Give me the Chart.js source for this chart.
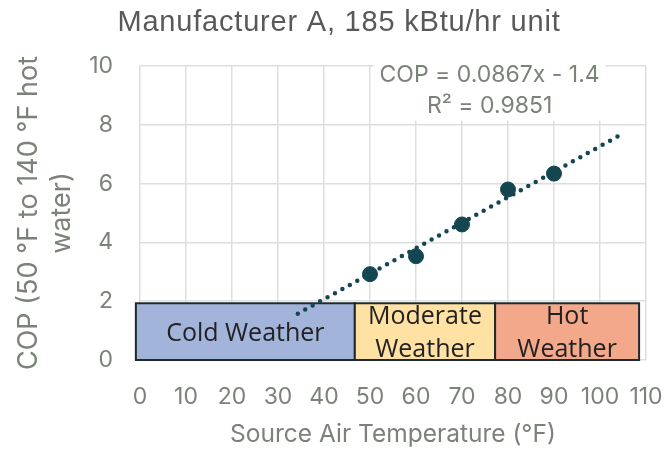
<!DOCTYPE html>
<html>
<head>
<meta charset="utf-8">
<script src="https://cdn.jsdelivr.net/npm/chart.js@4/dist/chart.umd.min.js"></script>
<style>
  html, body { margin: 0; padding: 0; background: #fff; }
  #wrap { width: 670px; height: 453px; }
</style>
</head>
<body>
<div id="wrap"><canvas id="copChart" width="670" height="453"></canvas></div>
<script>
// measured points
const tempF = [50, 60, 70, 80, 90];
const copValues = [2.92, 3.53, 4.61, 5.8, 6.34];

// linear trendline  COP = 0.0867x - 1.4
const trendSlope = 0.0867;
const trendIntercept = -1.4;
const trendRange = [34.3, 104.3];

// weather zones
const zoneNames = [['Cold Weather'], ['Moderate', 'Weather'], ['Hot', 'Weather']];
const zoneStart = [-0.9, 46.7, 77.2];
const zoneEnd = [46.7, 77.2, 108.5];
const zoneTop = 1.93;
const zoneColors = ['#a2b4da', '#fee1a3', '#f3a78b'];

const xTicks = [0, 10, 20, 30, 40, 50, 60, 70, 80, 90, 100, 110];
const yTicks = [0, 2, 4, 6, 8, 10];

const eqLines = ['COP = 0.0867x - 1.4', 'R² = 0.9851'];

const gray = '#7b8279';
const gridColor = '#dedede';

const trendData = trendRange.map(x => ({ x: x, y: trendSlope * x + trendIntercept }));

// zones + equation box drawn through the scales
const zonePlugin = {
  id: 'zones',
  beforeDatasetsDraw(chart) {
    const { ctx, scales: { x, y } } = chart;
    ctx.save();
    for (let i = 0; i < zoneNames.length; i++) {
      const x0 = x.getPixelForValue(zoneStart[i]);
      const x1 = x.getPixelForValue(zoneEnd[i]);
      const y0 = y.getPixelForValue(zoneTop);
      const y1 = y.getPixelForValue(0);
      ctx.fillStyle = zoneColors[i];
      ctx.fillRect(x0, y0, x1 - x0, y1 - y0);
      ctx.strokeStyle = '#1e2a2e';
      ctx.lineWidth = 2;
      ctx.strokeRect(x0, y0, x1 - x0, y1 - y0);
    }
    ctx.restore();
  },
  afterDatasetsDraw(chart) {
    const { ctx, scales: { x, y } } = chart;
    ctx.save();
    // zone labels
    ctx.fillStyle = '#222222';
    ctx.font = '25px "Open Sans", sans-serif';
    ctx.textAlign = 'center';
    ctx.textBaseline = 'middle';
    for (let i = 0; i < zoneNames.length; i++) {
      const cx = (x.getPixelForValue(zoneStart[i]) + x.getPixelForValue(zoneEnd[i])) / 2;
      const lines = zoneNames[i];
      const top = y.getPixelForValue(zoneTop);
      const bottom = y.getPixelForValue(0);
      if (lines.length === 1) {
        ctx.fillText(lines[0], cx, (top + bottom) / 2 + 2);
      } else {
        ctx.fillText(lines[0], cx, top + 14);
        ctx.fillText(lines[1], cx, top + 47);
      }
    }
    // equation label
    ctx.font = '23px Inter, sans-serif';
    const ex = x.getPixelForValue(76);
    const ey1 = y.getPixelForValue(9.7);
    const ey2 = y.getPixelForValue(8.65);
    const w = Math.max(ctx.measureText(eqLines[0]).width, ctx.measureText(eqLines[1]).width) + 12;
    ctx.fillStyle = '#ffffff';
    ctx.fillRect(ex - w / 2, ey1 - 15, w, ey2 - ey1 + 30);
    ctx.fillStyle = gray;
    ctx.fillText(eqLines[0], ex, ey1);
    ctx.fillText(eqLines[1], ex, ey2);
    ctx.restore();
  }
};

// title drawn centred on the canvas
const titlePlugin = {
  id: 'topTitle',
  afterDraw(chart) {
    const ctx = chart.ctx;
    ctx.save();
    ctx.fillStyle = '#595959';
    ctx.font = '29px "Liberation Sans", Arial, sans-serif';
    ctx.letterSpacing = '0.8px';
    ctx.textAlign = 'center';
    ctx.textBaseline = 'middle';
    ctx.fillText('Manufacturer A, 185 kBtu/hr unit', 339, 23);
    ctx.restore();
  }
};

new Chart(document.getElementById('copChart'), {
  type: 'scatter',
  data: {
    datasets: [
      {
        label: 'Trend',
        data: trendData,
        type: 'line',
        showLine: true,
        borderColor: '#144652',
        borderWidth: 4.5,
        borderDash: [0, 8.5],
        borderCapStyle: 'round',
        pointRadius: 0,
        fill: false,
        order: 2
      },
      {
        label: 'COP',
        data: tempF.map((t, i) => ({ x: t, y: copValues[i] })),
        backgroundColor: '#144652',
        borderColor: '#144652',
        pointRadius: 7.5,
        order: 1
      }
    ]
  },
  plugins: [zonePlugin, titlePlugin],
  options: {
    responsive: false,
    animation: false,
    layout: { padding: { top: 66, right: 24, bottom: 4, left: 8 } },
    plugins: {
      legend: { display: false },
      tooltip: { enabled: false },
      title: { display: false }
    },
    scales: {
      x: {
        type: 'linear',
        min: 0,
        max: 110,
        afterBuildTicks(axis) { axis.ticks = xTicks.map(v => ({ value: v })); },
        afterFit(axis) { axis.height = 89; axis.paddingLeft = 0; axis.paddingRight = 0; },
        grid: { color: gridColor, lineWidth: 1.5, drawTicks: false },
        border: { display: false },
        ticks: { color: gray, font: { family: 'Inter, sans-serif', size: 23 }, padding: 23, maxRotation: 0, autoSkip: false },
        title: {
          display: true,
          text: 'Source Air Temperature (°F)',
          color: gray,
          font: { family: 'Inter, sans-serif', size: 24.5 },
          padding: { top: 4, bottom: 0 }
        }
      },
      y: {
        type: 'linear',
        min: 0,
        max: 10,
        afterBuildTicks(axis) { axis.ticks = yTicks.map(v => ({ value: v })); },
        afterFit(axis) { axis.width = 132; axis.paddingTop = 0; axis.paddingBottom = 0; },
        grid: { color: gridColor, lineWidth: 1.5, drawTicks: false },
        border: { display: false },
        ticks: { color: gray, font: { family: 'Inter, sans-serif', size: 23 }, padding: 27 },
        title: {
          display: true,
          text: ['COP (50 °F to 140 °F hot', 'water)'],
          color: gray,
          font: { family: 'Inter, sans-serif', size: 27, lineHeight: 1.22 },
          padding: { top: 4, bottom: 8 }
        }
      }
    }
  }
});
</script>
</body>
</html>
